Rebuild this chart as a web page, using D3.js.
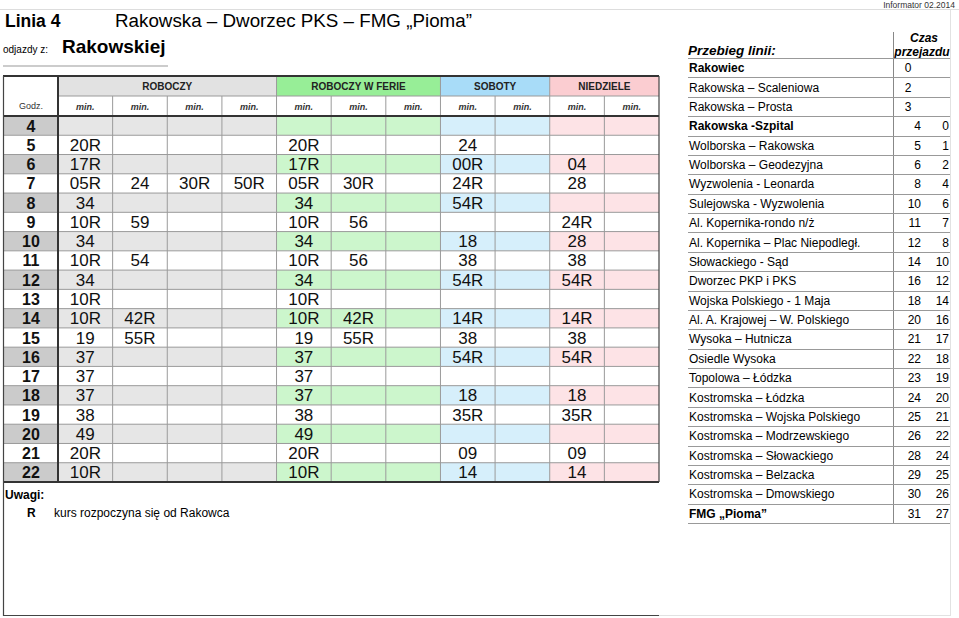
<!DOCTYPE html>
<html>
<head>
<meta charset="utf-8">
<script src="https://cdn.jsdelivr.net/npm/d3@7"></script>
<style>
  body { margin: 0; background: #fff; }
  svg { display: block; font-family: "Liberation Sans", Arial, sans-serif; }
</style>
</head>
<body>
<div id="rozklad"></div>
<script>
// rozklad linii 4 - odjazdy z Rakowskiej
var hours = [4, 5, 6, 7, 8, 9, 10, 11, 12, 13, 14, 15, 16, 17, 18, 19, 20, 21, 22];

var roboczy = [
  [], ["20R"], ["17R"], ["05R", "24", "30R", "50R"], ["34"], ["10R", "59"], ["34"], ["10R", "54"], ["34"],
  ["10R"], ["10R", "42R"], ["19", "55R"], ["37"], ["37"], ["37"], ["38"], ["49"], ["20R"], ["10R"]
];
var roboczyFerie = [
  [], ["20R"], ["17R"], ["05R", "30R"], ["34"], ["10R", "56"], ["34"], ["10R", "56"], ["34"],
  ["10R"], ["10R", "42R"], ["19", "55R"], ["37"], ["37"], ["37"], ["38"], ["49"], ["20R"], ["10R"]
];
var soboty = [
  [], ["24"], ["00R"], ["24R"], ["54R"], [], ["18"], ["38"], ["54R"],
  [], ["14R"], ["38"], ["54R"], [], ["18"], ["35R"], [], ["09"], ["14"]
];
var niedziele = [
  [], [], ["04"], ["28"], [], ["24R"], ["28"], ["38"], ["54R"],
  [], ["14R"], ["38"], ["54R"], [], ["18"], ["35R"], [], ["09"], ["14"]
];

var stops = [
  "Rakowiec", "Rakowska – Scaleniowa", "Rakowska – Prosta", "Rakowska -Szpital",
  "Wolborska – Rakowska", "Wolborska – Geodezyjna", "Wyzwolenia - Leonarda", "Sulejowska - Wyzwolenia",
  "Al. Kopernika-rondo n/ż", "Al. Kopernika – Plac Niepodległ.", "Słowackiego - Sąd", "Dworzec PKP i PKS",
  "Wojska Polskiego - 1 Maja", "Al. A. Krajowej – W. Polskiego", "Wysoka – Hutnicza", "Osiedle Wysoka",
  "Topolowa – Łódzka", "Kostromska – Łódzka", "Kostromska – Wojska Polskiego", "Kostromska – Modrzewskiego",
  "Kostromska – Słowackiego", "Kostromska – Belzacka", "Kostromska – Dmowskiego", "FMG „Pioma”"
];
var czasOdRakowca = [0, 2, 3, 4, 5, 6, 8, 10, 11, 12, 14, 16, 18, 20, 21, 22, 23, 24, 25, 26, 28, 29, 30, 31];
var czasOdSzpitala = [null, null, null, 0, 1, 2, 4, 6, 7, 8, 10, 12, 14, 16, 17, 18, 19, 20, 21, 22, 24, 25, 26, 27];
var boldStops = ["Rakowiec", "Rakowska -Szpital", "FMG „Pioma”"];

// typy dni: nazwa, liczba kolumn, kolory
var dayTypes = [
  { name: "ROBOCZY", cols: 4, data: roboczy, head: "#e2e2e2", shade: "#e6e6e6" },
  { name: "ROBOCZY W FERIE", cols: 3, data: roboczyFerie, head: "#97ee97", shade: "#ccf6cc" },
  { name: "SOBOTY", cols: 2, data: soboty, head: "#a8dcf8", shade: "#d6effb" },
  { name: "NIEDZIELE", cols: 2, data: niedziele, head: "#fbcdd1", shade: "#fde3e6" }
];

var width = 959, height = 618;
var svg = d3.select("#rozklad").append("svg")
  .attr("width", width).attr("height", height);

// skale
var nCols = d3.sum(dayTypes, function (d) { return d.cols; });
var x = d3.scaleBand().domain(d3.range(nCols)).range([58, 659]);
var y = d3.scaleBand().domain(hours).range([116, 482]);
var yStop = d3.scaleBand().domain(d3.range(stops.length)).range([58, 523]);

// naglowek strony
svg.append("line").attr("x1", 0).attr("x2", 959).attr("y1", 9.5).attr("y2", 9.5)
  .style("stroke", "#ddd");
svg.append("text").attr("x", 955).attr("y", 8).attr("text-anchor", "end")
  .style("font-size", "8.5px").style("fill", "#333").text("Informator 02.2014");
svg.append("text").attr("x", 5).attr("y", 27)
  .style("font-size", "17.5px").style("font-weight", "bold").text("Linia 4");
svg.append("text").attr("x", 115).attr("y", 27)
  .style("font-size", "18.8px").text("Rakowska – Dworzec PKS – FMG „Pioma”");
svg.append("text").attr("x", 3).attr("y", 53)
  .style("font-size", "10px").text("odjazdy z:");
svg.append("text").attr("x", 62).attr("y", 53)
  .style("font-size", "19px").style("font-weight", "bold").text("Rakowskiej");
svg.append("line").attr("x1", 3).attr("x2", 168).attr("y1", 66).attr("y2", 66)
  .style("stroke", "#999");

// komorki tabeli
var cells = [];
var colIndex = 0;
dayTypes.forEach(function (dt) {
  dt.start = colIndex;
  for (var c = 0; c < dt.cols; c++) {
    hours.forEach(function (h, i) {
      cells.push({ col: colIndex, hour: h, shaded: h % 2 === 0, color: dt.shade, value: dt.data[i][c] || "" });
    });
    colIndex++;
  }
});

var g = svg.append("g");

// tlo godzin
g.selectAll("rect.godz").data(hours).enter().append("rect")
  .attr("class", "godz")
  .attr("x", 3).attr("width", 55)
  .attr("y", function (d) { return y(d); }).attr("height", y.bandwidth())
  .attr("fill", function (d) { return d % 2 === 0 ? "#cbcbcb" : "#fff"; });

g.selectAll("rect.cell").data(cells).enter().append("rect")
  .attr("class", "cell")
  .attr("x", function (d) { return x(d.col); }).attr("width", x.bandwidth())
  .attr("y", function (d) { return y(d.hour); }).attr("height", y.bandwidth())
  .attr("fill", function (d) { return d.shaded ? d.color : "#fff"; });

// naglowki typow dni
g.selectAll("rect.head").data(dayTypes).enter().append("rect")
  .attr("class", "head")
  .attr("x", function (d) { return x(d.start); })
  .attr("width", function (d) { return x.bandwidth() * d.cols; })
  .attr("y", 76).attr("height", 20)
  .attr("fill", function (d) { return d.head; });
g.selectAll("text.head").data(dayTypes).enter().append("text")
  .attr("class", "head")
  .attr("x", function (d) { return x(d.start) + x.bandwidth() * d.cols / 2; })
  .attr("y", 90).attr("text-anchor", "middle")
  .style("font-size", "10px").style("font-weight", "bold").style("fill", "#222")
  .text(function (d) { return d.name; });

g.selectAll("text.min").data(d3.range(nCols)).enter().append("text")
  .attr("class", "min")
  .attr("x", function (d) { return x(d) + x.bandwidth() / 2; })
  .attr("y", 109.5).attr("text-anchor", "middle")
  .style("font-size", "9px").style("font-weight", "bold").style("font-style", "italic").style("fill", "#333")
  .text("min.");
g.append("text").attr("x", 31).attr("y", 108.5).attr("text-anchor", "middle")
  .style("font-size", "9px").style("fill", "#333").text("Godz.");

// linie siatki
g.selectAll("line.hrow").data(hours.slice(1)).enter().append("line")
  .attr("class", "hrow")
  .attr("x1", 3).attr("x2", 659)
  .attr("y1", function (d) { return y(d); }).attr("y2", function (d) { return y(d); })
  .style("stroke", "#9a9a9a").style("stroke-width", 1);
g.selectAll("line.vcol").data(d3.range(1, nCols)).enter().append("line")
  .attr("class", "vcol")
  .attr("x1", function (d) { return x(d); }).attr("x2", function (d) { return x(d); })
  .attr("y1", 96).attr("y2", 482)
  .style("stroke", "#9a9a9a");
g.selectAll("line.vgroup").data(dayTypes.slice(1)).enter().append("line")
  .attr("class", "vgroup")
  .attr("x1", function (d) { return x(d.start); }).attr("x2", function (d) { return x(d.start); })
  .attr("y1", 76).attr("y2", 96)
  .style("stroke", "#9a9a9a");
g.append("line").attr("x1", 58).attr("x2", 659).attr("y1", 96).attr("y2", 96)
  .style("stroke", "#9a9a9a");

// grube linie
var thick = [
  [3, 76, 659, 76], [3, 116, 659, 116], [3, 482, 659, 482], [58, 76, 58, 482]
];
g.selectAll("line.thick").data(thick).enter().append("line")
  .attr("x1", function (d) { return d[0]; }).attr("y1", function (d) { return d[1]; })
  .attr("x2", function (d) { return d[2]; }).attr("y2", function (d) { return d[3]; })
  .style("stroke", "#333").style("stroke-width", 2);
// ramka
g.append("path").attr("d", "M3.5,76 V615.5 H659 M659,76 V482")
  .style("fill", "none").style("stroke", "#444").style("stroke-width", 1.2);

// godziny
g.selectAll("text.hour").data(hours).enter().append("text")
  .attr("class", "hour")
  .attr("x", 31).attr("y", function (d) { return y(d) + y.bandwidth() / 2 + 6; })
  .attr("text-anchor", "middle")
  .style("font-size", "16px").style("font-weight", "bold").style("fill", "#111")
  .text(function (d) { return d; });

// minuty
g.selectAll("text.val").data(cells.filter(function (d) { return d.value; })).enter().append("text")
  .attr("class", "val")
  .attr("x", function (d) { return x(d.col) + x.bandwidth() / 2; })
  .attr("y", function (d) { return y(d.hour) + y.bandwidth() / 2 + 6; })
  .attr("text-anchor", "middle")
  .style("font-size", "17px").style("fill", "#111")
  .text(function (d) { return d.value; });

// uwagi
svg.append("text").attr("x", 5).attr("y", 499)
  .style("font-size", "12px").style("font-weight", "bold").text("Uwagi:");
svg.append("text").attr("x", 27).attr("y", 517)
  .style("font-size", "12px").style("font-weight", "bold").text("R");
svg.append("text").attr("x", 54).attr("y", 517)
  .style("font-size", "12px").text("kurs rozpoczyna się od Rakowca");

// przebieg linii
var r = svg.append("g");
r.append("line").attr("x1", 950.5).attr("x2", 950.5).attr("y1", 10).attr("y2", 615)
  .style("stroke", "#e2e2e2");
r.append("line").attr("x1", 659).attr("x2", 951).attr("y1", 615.5).attr("y2", 615.5)
  .style("stroke", "#e2e2e2");
r.append("text").attr("x", 688).attr("y", 55)
  .style("font-size", "13.5px").style("font-weight", "bold").style("font-style", "italic")
  .text("Przebieg linii:");
r.append("text").attr("x", 924).attr("y", 42).attr("text-anchor", "middle")
  .style("font-size", "12px").style("font-weight", "bold").style("font-style", "italic").text("Czas");
r.append("text").attr("x", 922).attr("y", 56).attr("text-anchor", "middle")
  .style("font-size", "12px").style("font-weight", "bold").style("font-style", "italic").text("przejazdu");
r.append("line").attr("x1", 893.5).attr("x2", 893.5).attr("y1", 32).attr("y2", 523)
  .style("stroke", "#888");

r.selectAll("line.sep").data(d3.range(stops.length + 1)).enter().append("line")
  .attr("class", "sep")
  .attr("x1", 688).attr("x2", 950)
  .attr("y1", function (d) { return Math.round(yStop(d) || yStop.range()[1]) + 0.5; })
  .attr("y2", function (d) { return Math.round(yStop(d) || yStop.range()[1]) + 0.5; })
  .style("stroke", "#999");

r.selectAll("text.stop").data(stops).enter().append("text")
  .attr("class", "stop")
  .attr("x", 689).attr("y", function (d, i) { return yStop(i) + yStop.bandwidth() / 2 + 4.5; })
  .style("font-size", "12px")
  .style("font-weight", function (d) { return boldStops.indexOf(d) >= 0 ? "bold" : "normal"; })
  .text(function (d) { return d; });

r.selectAll("text.t1").data(czasOdRakowca).enter().append("text")
  .attr("class", "t1")
  .attr("x", function (d, i) { return czasOdSzpitala[i] === null ? 908 : 921; })
  .attr("y", function (d, i) { return yStop(i) + yStop.bandwidth() / 2 + 4.5; })
  .attr("text-anchor", function (d, i) { return czasOdSzpitala[i] === null ? "middle" : "end"; })
  .style("font-size", "12px")
  .text(function (d) { return d; });

r.selectAll("text.t2").data(czasOdSzpitala).enter().append("text")
  .attr("class", "t2")
  .attr("x", 949)
  .attr("y", function (d, i) { return yStop(i) + yStop.bandwidth() / 2 + 4.5; })
  .attr("text-anchor", "end")
  .style("font-size", "12px")
  .text(function (d) { return d === null ? "" : d; });
</script>
</body>
</html>
